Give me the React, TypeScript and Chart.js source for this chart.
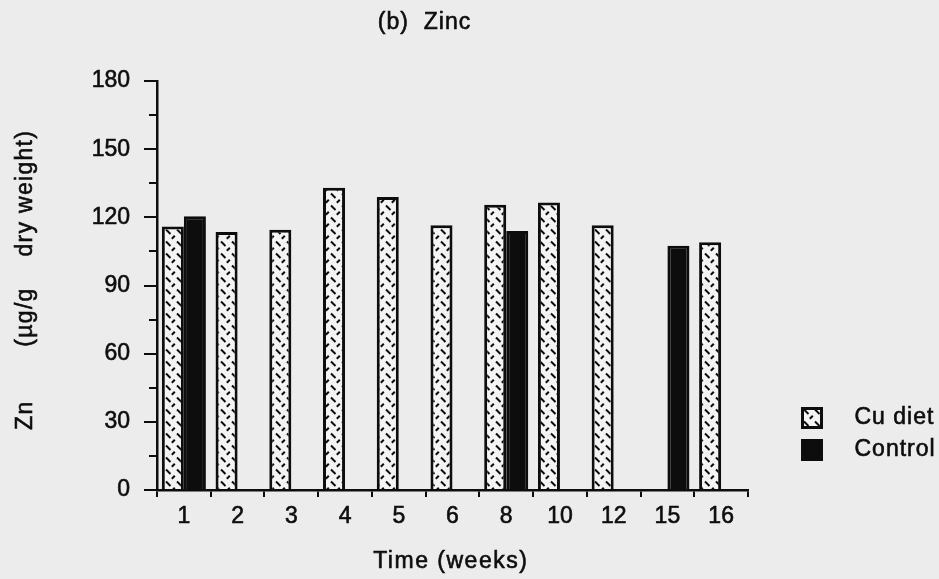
import { useEffect, useRef } from "react";
import { Chart, registerables } from "chart.js";

Chart.register(...registerables);

// Zinc concentration per sampling week
const weeks = ["1", "2", "3", "4", "5", "6", "8", "10", "12", "15", "16"];
const cuDiet = [116, 113.5, 114.5, 133, 129, 116.5, 125.5, 126.5, 116.5, null, 109];
const control = [120.5, null, null, null, null, null, 114, null, null, 107.5, null];

const seriesLabels = ["Cu diet", "Control"];
const yMin = 0;
const yMax = 180;
const yStep = 30;
const yMinorStep = 15;

const chartTitle = "(b)  Zinc";
const xTitle = "Time (weeks)";
const yTitle = "Zn       (µg/g    dry weight)";

const FONT = '"Liberation Sans", Arial, Helvetica, sans-serif';
const INK = "#0d0d0d";
const PAPER = "#ececec";
const BAR_FILL = "#f4f4f4";
const W = 939;
const H = 579;
const TEXT_STROKE = 0.6;

function makeHatch(): CanvasPattern | string {
  const tile = document.createElement("canvas");
  tile.width = 11;
  tile.height = 12;
  const t = tile.getContext("2d");
  if (!t) return BAR_FILL;
  t.fillStyle = BAR_FILL;
  t.fillRect(0, 0, 11, 12);
  t.strokeStyle = INK;
  t.lineWidth = 2;
  t.lineCap = "butt";
  t.beginPath();
  t.moveTo(1, 1.5);
  t.lineTo(5.5, 6);
  t.moveTo(6.8, 10.8);
  t.lineTo(9.8, 7.8);
  t.stroke();
  return t.createPattern(tile, "repeat") ?? BAR_FILL;
}

function drawSpaced(ctx: CanvasRenderingContext2D, text: string, x: number, y: number, spacing: number) {
  const c = ctx as any;
  c.letterSpacing = `${spacing}px`;
  ctx.fillText(text, x + spacing / 2, y);
  ctx.strokeText(text, x + spacing / 2, y);
  c.letterSpacing = "0px";
}

const decorPlugin = {
  id: "decor",
  afterDraw(chart: any) {
    const { ctx, chartArea: a, scales } = chart;
    const ys = scales.y;
    ctx.save();

    // short minor ticks on the y axis
    ctx.strokeStyle = INK;
    ctx.lineWidth = 2;
    for (let v = yMin + yMinorStep; v < yMax; v += yStep) {
      const py = Math.round(ys.getPixelForValue(v));
      ctx.beginPath();
      ctx.moveTo(a.left - 8, py);
      ctx.lineTo(a.left, py);
      ctx.stroke();
    }

    ctx.fillStyle = INK;
    ctx.font = `23px ${FONT}`;
    ctx.textAlign = "center";
    ctx.textBaseline = "middle";
    ctx.lineWidth = TEXT_STROKE;

    // heading
    drawSpaced(ctx, chartTitle, a.left + 267, 23, 1);

    // x axis title
    drawSpaced(ctx, xTitle, a.left + 293, a.bottom + 72, 1.5);

    // y axis title
    ctx.save();
    ctx.translate(26, (a.top + a.bottom) / 2 - 5);
    ctx.rotate(-Math.PI / 2);
    drawSpaced(ctx, yTitle, 0, 0, 1.3);
    ctx.restore();

    // legend
    const ds = chart.data.datasets;
    const bx = a.right + 53;
    const rows = [a.top + 337, a.top + 369];
    ds.forEach((d: any, i: number) => {
      const cy = rows[i];
      ctx.fillStyle = d.backgroundColor;
      ctx.fillRect(bx, cy - 11, 22, 22);
      ctx.strokeStyle = INK;
      ctx.lineWidth = 3;
      ctx.strokeRect(bx + 1.5, cy - 9.5, 19, 19);
      ctx.fillStyle = INK;
      ctx.lineWidth = TEXT_STROKE;
      ctx.textAlign = "left";
      drawSpaced(ctx, d.label, bx + 53, cy, 1);
    });

    ctx.restore();
  },
};

export default function App() {
  const canvasRef = useRef<HTMLCanvasElement | null>(null);

  useEffect(() => {
    document.body.style.background = PAPER;
    document.body.style.margin = "0";
    const canvas = canvasRef.current;
    if (!canvas) return;
    const hatch = makeHatch();

    const tickFont = { family: FONT, size: 23 };

    const chart = new Chart(canvas, {
      type: "bar",
      data: {
        labels: weeks,
        datasets: [
          {
            label: seriesLabels[0],
            data: cuDiet,
            backgroundColor: hatch as any,
            borderColor: INK,
            borderWidth: 3,
          },
          {
            label: seriesLabels[1],
            data: control,
            backgroundColor: INK,
            borderColor: INK,
            borderWidth: 3,
          },
        ],
      },
      options: {
        responsive: false,
        maintainAspectRatio: false,
        animation: false,
        devicePixelRatio: 1,
        layout: { padding: { top: 81, right: 191, left: 0, bottom: 0 } },
        datasets: {
          bar: { categoryPercentage: 0.82, barPercentage: 1 },
        },
        plugins: {
          legend: { display: false },
          title: { display: false },
          tooltip: { enabled: false },
        },
        scales: {
          x: {
            afterFit: (s: any) => {
              s.height = 89;
            },
            grid: {
              display: true,
              drawOnChartArea: false,
              drawTicks: true,
              tickLength: 7,
              color: INK,
              lineWidth: 2,
            },
            border: { display: true, color: INK, width: 2.5 },
            ticks: {
              color: INK,
              font: tickFont,
              padding: 6,
              maxRotation: 0,
              autoSkip: false,
              textStrokeColor: INK,
              textStrokeWidth: TEXT_STROKE,
            },
          },
          y: {
            min: yMin,
            max: yMax,
            afterFit: (s: any) => {
              s.width = 157;
            },
            grid: {
              display: true,
              drawOnChartArea: false,
              drawTicks: true,
              tickLength: 13,
              color: INK,
              lineWidth: 2,
            },
            border: { display: true, color: INK, width: 2.5 },
            ticks: {
              stepSize: yStep,
              color: INK,
              font: tickFont,
              padding: 14,
              textStrokeColor: INK,
              textStrokeWidth: TEXT_STROKE,
            },
          },
        },
      },
      plugins: [decorPlugin],
    });

    return () => chart.destroy();
  }, []);

  return (
    <div style={{ width: W, height: H, overflow: "hidden" }}>
      <canvas ref={canvasRef} width={W} height={H} style={{ display: "block" }} />
    </div>
  );
}
